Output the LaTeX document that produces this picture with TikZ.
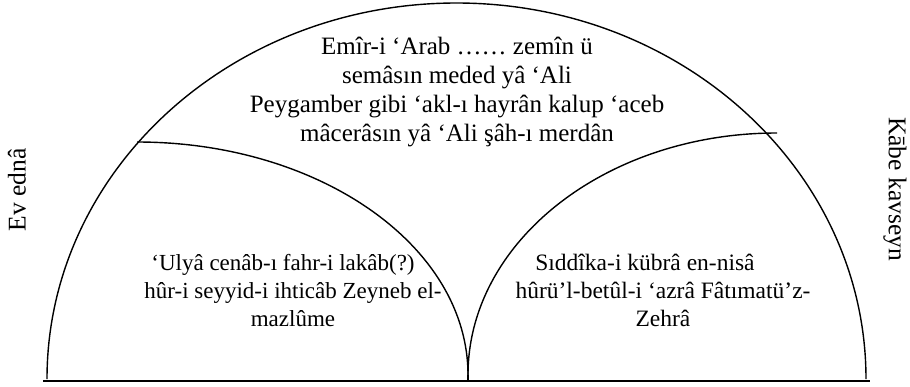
\documentclass[tikz,border=0pt]{standalone}
\usepackage{fontspec}
\setmainfont{Liberation Serif}
\begin{document}
\begin{tikzpicture}[x=1pt,y=-1pt,
  arcline/.style={line width=1.4pt},
  baseln/.style={line width=2.6pt},
  txt/.style={font=\fontsize{25}{29}\selectfont, align=center, inner sep=0pt, anchor=base},
  lowtxt/.style={font=\fontsize{23.5}{28}\selectfont, align=center, inner sep=0pt, anchor=base},
  side/.style={font=\fontsize{25.5}{29.5}\selectfont, inner sep=0pt}]
\useasboundingbox (0,0) rectangle (910,386);
% big outer arc (half ellipse)
\coordinate (bl) at (47,379);
\draw[arcline] (bl) arc[start angle=180, end angle=360, x radius=409.5, y radius=376];
% lower-left quarter arc
\coordinate (lt) at (137,142);
\coordinate (cusp) at (468,375);
\draw[arcline] (lt) arc[start angle=270, end angle=360, x radius=331, y radius=233];
% lower-right quarter arc
\coordinate (rt) at (777,133);
\draw[arcline] (rt) arc[start angle=270, end angle=180, x radius=309, y radius=242];
\coordinate (cuspb) at (468,380);
\draw[arcline] (cusp) -- (cuspb);
% baseline
\coordinate (b0) at (43,381);
\coordinate (b1) at (870,381);
\draw[baseln] (b0) -- (b1);
% texts (anchor base = baseline of last line)
\node[txt] (top) at (457,141) {Emîr-i ‘Arab …… zemîn ü\\semâsın meded yâ ‘Ali\\Peygamber gibi ‘akl-ı hayrân kalup ‘aceb\\mâcerâsın yâ ‘Ali şâh-ı merdân};
\node[lowtxt, font=\fontsize{23}{28}\selectfont] (left) at (293,326) {‘Ulyâ cenâb-ı fahr-i lakâb(?)\hspace*{20pt}\\hûr-i seyyid-i ihticâb Zeyneb el-\\mazlûme};
\node[lowtxt] (right) at (663,326) {Sıddîka-i kübrâ en-nisâ\hspace*{36pt}\\hûrü’l-betûl-i ‘azrâ Fâtımatü’z-\\Zehrâ};
\node[side, rotate=90] (evedna) at (17,190) {Ev ednâ};
\node[side, rotate=-90] (kabe) at (895,189) {Kābe kavseyn};
\end{tikzpicture}
\end{document}
